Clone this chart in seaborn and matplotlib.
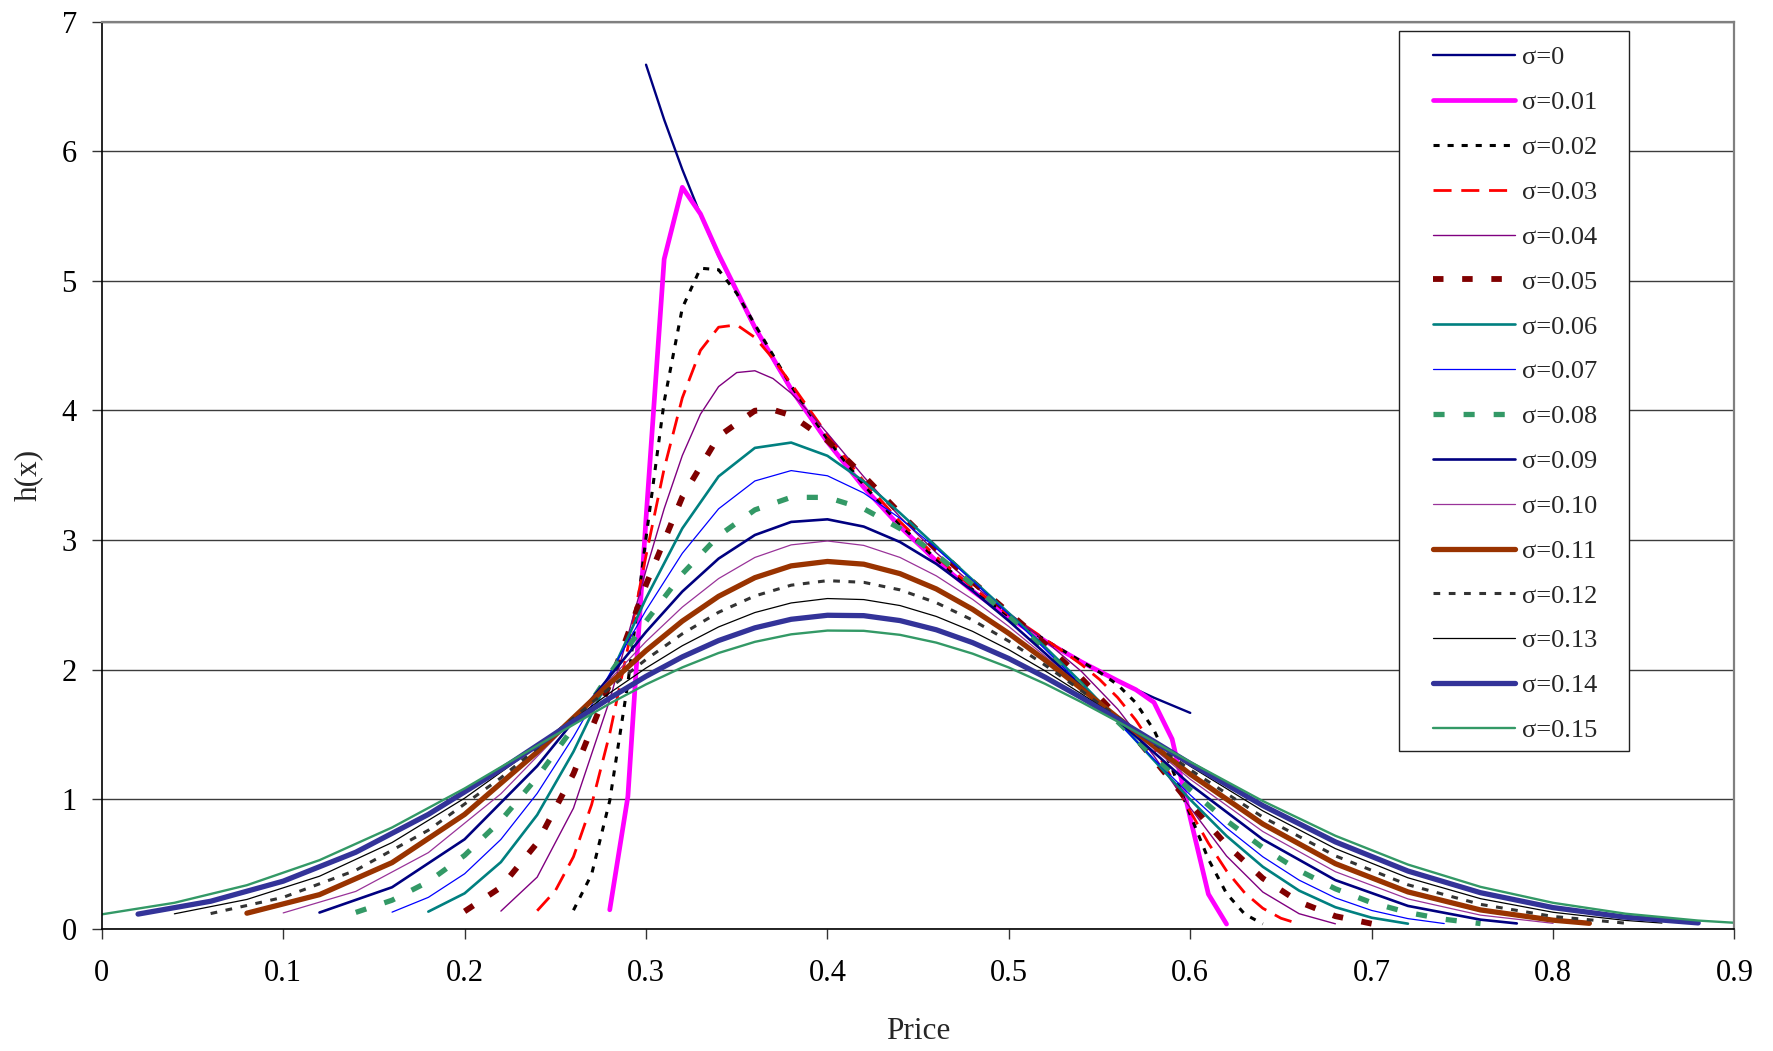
import numpy as np
import matplotlib
matplotlib.use("Agg")
import matplotlib.pyplot as plt
import seaborn as sns
from matplotlib.patches import Rectangle


def grid(start, stop, step=0.02):
    # spreadsheet-style price column
    return np.round(np.arange(start, stop + step / 2, step), 2)


# ---- data: h(x) for each sigma ----
x_s000 = np.r_[0.30, 0.31, 0.32, 0.33, grid(0.34, 0.60)]
h_s000 = [6.667, 6.243, 5.859, 5.510, 5.190, 4.630, 4.155, 3.750, 3.401, 3.099,
          2.836, 2.604, 2.400, 2.219, 2.058, 1.913, 1.784, 1.667]

x_s001 = np.r_[grid(0.28, 0.34, 0.01), grid(0.36, 0.56), grid(0.57, 0.62, 0.01)]
h_s001 = [0.148, 1.022, 3.167, 5.167, 5.721, 5.516, 5.204, 4.640, 4.164, 3.757,
          3.407, 3.104, 2.839, 2.608, 2.403, 2.221, 2.060, 1.915, 1.846, 1.748,
          1.465, 0.856, 0.269, 0.038]

x_s002 = np.r_[grid(0.26, 0.36, 0.01), grid(0.38, 0.54), grid(0.55, 0.64, 0.01)]
h_s002 = [0.145, 0.421, 0.990, 1.897, 3.017, 4.068, 4.790, 5.097, 5.085, 4.903,
          4.663, 4.190, 3.778, 3.425, 3.118, 2.852, 2.618, 2.412, 2.229, 2.064,
          1.981, 1.884, 1.745, 1.534, 1.236, 0.881, 0.538, 0.274, 0.115, 0.039]

x_s003 = np.r_[grid(0.24, 0.38, 0.01), grid(0.40, 0.50), grid(0.52, 0.66, 0.01)]
h_s003 = [0.141, 0.295, 0.557, 0.959, 1.507, 2.170, 2.880, 3.551, 4.097, 4.463,
          4.642, 4.660, 4.563, 4.400, 4.206, 3.811, 3.454, 3.142, 2.872, 2.635,
          2.425, 2.235, 2.141, 2.040, 1.925, 1.785, 1.611, 1.401, 1.161, 0.907,
          0.662, 0.448, 0.279, 0.160, 0.083, 0.039]

x_s004 = np.r_[grid(0.22, 0.28), grid(0.29, 0.40, 0.01), grid(0.42, 0.68)]
h_s004 = [0.138, 0.400, 0.932, 1.767, 2.262, 2.767, 3.242, 3.652, 3.971, 4.184,
          4.292, 4.306, 4.246, 4.133, 3.986, 3.823, 3.489, 3.178, 2.902, 2.658,
          2.438, 2.222, 1.987, 1.696, 1.335, 0.935, 0.563, 0.285, 0.118, 0.040]

x_s005 = np.r_[grid(0.20, 0.36), 0.37, grid(0.38, 0.70)]
h_s005 = [0.136, 0.322, 0.664, 1.197, 1.892, 2.656, 3.333, 3.800, 3.998, 4.005,
          3.962, 3.767, 3.495, 3.207, 2.933, 2.679, 2.440, 2.198, 1.935, 1.638,
          1.307, 0.965, 0.649, 0.391, 0.209, 0.099, 0.041]

x_s006 = grid(0.18, 0.72)
h_s006 = [0.134, 0.275, 0.516, 0.880, 1.368, 1.948, 2.551, 3.090, 3.491, 3.711,
          3.752, 3.650, 3.453, 3.209, 2.951, 2.693, 2.436, 2.175, 1.900, 1.607,
          1.301, 0.998, 0.718, 0.480, 0.296, 0.168, 0.087, 0.041]

x_s007 = grid(0.16, 0.74)
h_s007 = [0.130, 0.244, 0.426, 0.691, 1.046, 1.482, 1.969, 2.459, 2.898, 3.241,
          3.456, 3.536, 3.496, 3.363, 3.168, 2.936, 2.686, 2.426, 2.157, 1.880,
          1.596, 1.311, 1.034, 0.779, 0.557, 0.377, 0.240, 0.143, 0.080, 0.042]

x_s008 = grid(0.14, 0.76)
h_s008 = [0.128, 0.222, 0.365, 0.568, 0.837, 1.170, 1.555, 1.967, 2.374, 2.739,
          3.033, 3.233, 3.330, 3.329, 3.242, 3.089, 2.889, 2.658, 2.407, 2.143,
          1.872, 1.599, 1.330, 1.073, 0.836, 0.627, 0.451, 0.310, 0.203, 0.127,
          0.075, 0.042]

x_s009 = np.r_[grid(0.12, 0.24, 0.04), grid(0.28, 0.56), grid(0.60, 0.76, 0.04), 0.78]
h_s009 = [0.127, 0.322, 0.692, 1.257, 1.948, 2.292, 2.603, 2.857, 3.039, 3.140,
          3.160, 3.104, 2.985, 2.816, 2.609, 2.376, 2.127, 1.869, 1.610, 1.114,
          0.691, 0.377, 0.178, 0.072, 0.043]

x_s010 = np.r_[grid(0.10, 0.26, 0.04), grid(0.28, 0.56), grid(0.60, 0.76, 0.04), 0.80]
h_s010 = [0.124, 0.290, 0.589, 1.043, 1.619, 1.924, 2.218, 2.483, 2.703, 2.866,
          2.963, 2.993, 2.959, 2.866, 2.724, 2.543, 2.333, 2.104, 1.864, 1.622,
          1.155, 0.752, 0.442, 0.232, 0.107, 0.044]

x_s011 = np.r_[grid(0.08, 0.24, 0.04), grid(0.28, 0.56), grid(0.60, 0.80, 0.04), 0.82]
h_s011 = [0.122, 0.265, 0.512, 0.884, 1.365, 1.894, 2.147, 2.375, 2.566, 2.710,
          2.801, 2.835, 2.814, 2.741, 2.623, 2.466, 2.280, 2.074, 1.854, 1.630,
          1.194, 0.810, 0.504, 0.286, 0.147, 0.068, 0.044]

x_s012 = np.r_[grid(0.06, 0.26, 0.04), grid(0.28, 0.56), grid(0.60, 0.84, 0.04)]
h_s012 = [0.119, 0.244, 0.453, 0.762, 1.166, 1.627, 1.859, 2.079, 2.277, 2.443,
          2.569, 2.652, 2.687, 2.674, 2.616, 2.517, 2.383, 2.220, 2.035, 1.838,
          1.633, 1.228, 0.863, 0.564, 0.341, 0.190, 0.097, 0.045]

x_s013 = np.r_[grid(0.04, 0.24, 0.04), grid(0.28, 0.56), grid(0.60, 0.84, 0.04), 0.86]
h_s013 = [0.117, 0.228, 0.407, 0.667, 1.009, 1.409, 1.821, 2.013, 2.185, 2.330,
          2.441, 2.515, 2.549, 2.541, 2.495, 2.411, 2.296, 2.154, 1.991, 1.814,
          1.629, 1.255, 0.911, 0.620, 0.395, 0.234, 0.129, 0.066, 0.046]

x_s014 = np.r_[grid(0.02, 0.26, 0.04), grid(0.28, 0.56), grid(0.60, 0.88, 0.04)]
h_s014 = [0.115, 0.214, 0.369, 0.592, 0.884, 1.231, 1.601, 1.781, 1.949, 2.099,
          2.225, 2.323, 2.389, 2.420, 2.417, 2.379, 2.308, 2.209, 2.086, 1.942,
          1.785, 1.618, 1.276, 0.952, 0.672, 0.447, 0.280, 0.165, 0.091, 0.047]

x_s015 = np.r_[grid(0.00, 0.24, 0.04), grid(0.28, 0.56), grid(0.60, 0.88, 0.04), 0.90]
h_s015 = [0.113, 0.202, 0.338, 0.531, 0.783, 1.084, 1.414, 1.739, 1.887, 2.018,
          2.129, 2.215, 2.273, 2.302, 2.300, 2.269, 2.209, 2.124, 2.017, 1.891,
          1.750, 1.600, 1.289, 0.987, 0.719, 0.497, 0.325, 0.202, 0.118, 0.065,
          0.048]

labels = ["σ=0", "σ=0.01", "σ=0.02", "σ=0.03", "σ=0.04", "σ=0.05", "σ=0.06",
          "σ=0.07", "σ=0.08", "σ=0.09", "σ=0.10", "σ=0.11", "σ=0.12", "σ=0.13",
          "σ=0.14", "σ=0.15"]
xs = [x_s000, x_s001, x_s002, x_s003, x_s004, x_s005, x_s006, x_s007,
      x_s008, x_s009, x_s010, x_s011, x_s012, x_s013, x_s014, x_s015]
hs = [h_s000, h_s001, h_s002, h_s003, h_s004, h_s005, h_s006, h_s007,
      h_s008, h_s009, h_s010, h_s011, h_s012, h_s013, h_s014, h_s015]

x_ticks = [0, 0.1, 0.2, 0.3, 0.4, 0.5, 0.6, 0.7, 0.8, 0.9]
x_tick_labels = ["0", "0.1", "0.2", "0.3", "0.4", "0.5", "0.6", "0.7", "0.8", "0.9"]
y_ticks = [0, 1, 2, 3, 4, 5, 6, 7]

# ---- line styles (Excel-like palette) ----
styles = [
    dict(color="#000080", lw=1.7, ls="-"),
    dict(color="#FF00FF", lw=3.4, ls="-"),
    dict(color="#000000", lw=2.2, ls=(0, (2.0, 2.6))),
    dict(color="#FF0000", lw=2.0, ls=(0, (6.5, 3.5))),
    dict(color="#800080", lw=1.0, ls="-"),
    dict(color="#800000", lw=4.2, ls=(0, (1.8, 3.2))),
    dict(color="#008080", lw=1.9, ls="-"),
    dict(color="#0000FF", lw=0.9, ls="-"),
    dict(color="#339966", lw=3.8, ls=(0, (2.1, 3.6))),
    dict(color="#000080", lw=1.9, ls="-"),
    dict(color="#993399", lw=0.9, ls="-"),
    dict(color="#993300", lw=3.8, ls="-"),
    dict(color="#333333", lw=2.2, ls=(0, (2.2, 2.8))),
    dict(color="#000000", lw=0.9, ls="-"),
    dict(color="#333399", lw=3.8, ls="-"),
    dict(color="#339966", lw=1.7, ls="-"),
]

sns.set_theme(style="white")
plt.rcParams["font.family"] = ["Liberation Serif", "DejaVu Serif"]

fig = plt.figure(figsize=(17.74, 10.51), dpi=100)
ax = fig.add_axes([0.05738, 0.11608, 0.92035, 0.86346])

for lab, x, h, st in zip(labels, xs, hs, styles):
    sns.lineplot(x=x, y=h, ax=ax, label=lab, errorbar=None,
                 color=st["color"], linewidth=st["lw"], linestyle=st["ls"],
                 solid_capstyle="round", dash_capstyle="butt")

ax.set_xlim(0, 0.9)
ax.set_ylim(0, 7)
ax.set_xticks(x_ticks)
ax.set_xticklabels(x_tick_labels)
ax.set_yticks(y_ticks)
ax.set_yticklabels([str(v) for v in y_ticks])
ax.tick_params(axis="both", which="major", bottom=True, left=True,
               direction="out", length=7, width=1.0, color="#333333",
               labelcolor="black", labelsize=22)
ax.tick_params(axis="x", pad=14.5)
ax.tick_params(axis="y", pad=11)

ax.set_axisbelow(True)
ax.yaxis.grid(True, color="#3c3c3c", linewidth=1.0)
ax.xaxis.grid(False)
for side in ["left", "bottom"]:
    ax.spines[side].set_color("black")
    ax.spines[side].set_linewidth(1.2)
for side in ["top", "right"]:
    ax.spines[side].set_color("#808080")
    ax.spines[side].set_linewidth(1.6)

ax.set_xlabel("Price", fontsize=22.5)
ax.xaxis.set_label_coords(0.5, -0.097)
ax.set_ylabel("h(x)", fontsize=22.5)
ax.yaxis.set_label_coords(-0.036, 0.5)

# legend box like the Excel one
box = Rectangle((1399.5 / 1774, 300 / 1051), 230 / 1774, 720 / 1051,
                transform=fig.transFigure, facecolor="white", edgecolor="#222222",
                linewidth=1.0, zorder=4, clip_on=False)
ax.add_patch(box)
leg = ax.legend(loc="upper left", bbox_to_anchor=(1433 / 1774, 1 - 46 / 1051),
                bbox_transform=fig.transFigure, frameon=False, fontsize=19,
                handlelength=3.1, handletextpad=0.26, labelspacing=0.81,
                borderpad=0, borderaxespad=0)
leg.set_zorder(5)

fig.savefig("out.png", dpi=100)
